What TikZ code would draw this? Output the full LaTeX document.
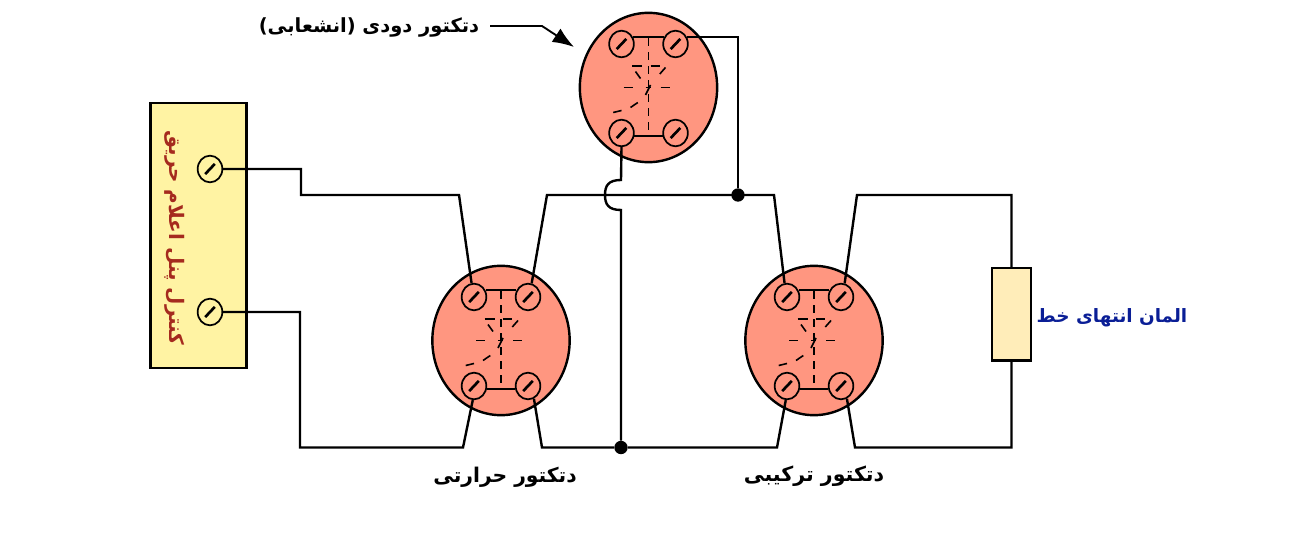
\documentclass[tikz,border=0pt]{standalone}
\usepackage{fontspec}
\usepackage{xcolor}
\usetikzlibrary{calc,positioning,shapes.geometric,arrows.meta}
\TeXXeTstate=1
\newfontfamily\arabicfont[Script=Arabic]{DejaVu Sans}
\definecolor{headred}{HTML}{FF9680}
\definecolor{panelyellow}{HTML}{FFF3A3}
\definecolor{loadcream}{HTML}{FFEDB9}
\definecolor{paneltext}{HTML}{A52A1E}
\definecolor{loadtext}{HTML}{0A1E96}
\tikzset{
	wire/.style={line width=1.8pt},
	junction/.style={circle,fill=black,inner sep=0pt,minimum size=10pt},
	terminal/.style={ellipse,draw,line width=1.3pt,inner sep=0pt,minimum width=18.5pt,minimum height=20pt,
		path picture={\draw[line width=2pt] ($(path picture bounding box.center)+(-3.6pt,-3.8pt)$) -- ($(path picture bounding box.center)+(3.6pt,3.8pt)$);}},
	name label/.style={font=\arabicfont\bfseries\fontsize{15}{17}\selectfont},
	sensor/.style={line width=1.2pt,dash pattern=on 5.5pt off 5pt},
	detector/.pic={
		\node[ellipse,draw,fill=headred,line width=1.8pt,inner sep=0pt,minimum width=103pt,minimum height=112pt] (-body) at (0,0) {};
		\node[terminal] (-tl) at (-27,-43.5) {};
		\node[terminal] (-tr) at (27,-43.5) {};
		\node[terminal] (-bl) at (-27,45.5) {};
		\node[terminal] (-br) at (27,45.5) {};
		\draw[line width=1.5pt] (-tl.30) -- (-tr.150);
		\draw[line width=1.5pt] (-bl.-15) -- (-br.195);
		\draw[sensor] (0,-49) -- (0,48.5);
		%
		\draw[line width=1.2pt] (-16.5,-21.5) -- (-6.5,-21.5) (2,-21.5) -- (11,-21.5);
		\draw[line width=1.2pt] (-13,-16) -- (-8,-9) (17,-20) -- (11.3,-13.5);
		\draw[line width=1.2pt] (-25,0) -- (-16,0) (12,0) -- (21,0) (-3,0) -- (2,0);
		\draw[line width=1.2pt] (2,-2.5) -- (-3,7.5);
		\draw[line width=1.2pt] (-10.7,15) -- (-18,20) (-27,23) -- (-35.3,25);
	}
}
\begin{document}
\begin{tikzpicture}[x=0.75pt,y=-0.75pt]
	\useasboundingbox (0,0) rectangle (1289,534);
	%
	\node[draw,fill=panelyellow,line width=1.8pt,inner sep=0pt,minimum width=72pt,minimum height=199pt] (panel) at (198.5,235.5) {};
	\node[terminal] (pt1) at (210,169) {};
	\node[terminal] (pt2) at (210,312) {};
	\node[rotate=-90,text=paneltext,font=\arabicfont\bfseries\fontsize{15}{17}\selectfont] (paneltitle) at (175,238) {\beginR کنترل پنل اعلام حریق\endR};
	%
	\pic (smoke) at (648.5,87.5) {detector};
	\pic (heat) at (501,340.5) {detector};
	\pic (combo) at (814,340.5) {detector};
	\node[draw,fill=loadcream,line width=1.8pt,inner sep=0pt,minimum width=29pt,minimum height=69.5pt] (eol) at (1011.5,314.3) {};
	%
	\node[font=\arabicfont\bfseries\fontsize{14.6}{17}\selectfont] (smokename) at (369,27) {\beginR دتکتور دودی (انشعابی)\endR};
	\node[name label,font=\arabicfont\bfseries\fontsize{15.2}{17}\selectfont] (heatname) at (505,477) {\beginR دتکتور حرارتی\endR};
	\node[name label,font=\arabicfont\bfseries\fontsize{15.4}{17}\selectfont] (comboname) at (814,476) {\beginR دتکتور ترکیبی\endR};
	\node[text=loadtext,font=\arabicfont\bfseries\fontsize{13.8}{16}\selectfont] (eolname) at (1112,318) {\beginR المان انتهای خط\endR};
	%
	\node[junction] (j1) at (738,195) {};
	\node[junction] (j2) at (621,447.5) {};
	%
	\coordinate (a1) at (301,195);
	\coordinate (a2) at (459,195);
	\coordinate (a3) at (300,447.5);
	\coordinate (a4) at (463,447.5);
	\coordinate (b1) at (547,195);
	\coordinate (b2) at (774,195);
	\coordinate (b3) at (542,447.5);
	\coordinate (b4) at (777,447.5);
	\coordinate (c1) at (857,195);
	\coordinate (c2) at (1011.5,195);
	\coordinate (c3) at (855,447.5);
	\coordinate (c4) at (1011.5,447.5);
	\coordinate (h1) at (621,180);
	\coordinate (h2) at (605,195);
	\coordinate (h3) at (621,210);
	\coordinate (p1) at (490,26);
	\coordinate (p2) at (542,26);
	\coordinate (p3) at (574,47);
	%
	\draw[wire] (pt1.east) -| (a1) -- (a2) -- (heat-tl.100);
	\draw[wire] (pt2.east) -| (a3) -- (a4) -- (heat-bl.265);
	\draw[wire] (heat-tr.75) -- (b1) -- (b2) -- (combo-tl.100);
	\draw[wire] (heat-br.-65) -- (b3) -- (j2) -- (b4) -- (combo-bl.265);
	\draw[wire] (combo-tr.75) -- (c1) -- (c2) -- (eol.north);
	\draw[wire] (combo-br.-65) -- (c3) -- (c4) -- (eol.south);
	\draw[wire] (smoke-tr.30) -| (j1);
	\draw[wire] (smoke-bl.south) -- (h1) .. controls (608,180) and (605,186) .. (h2) .. controls (605,204) and (608,210) .. (h3) -- (j2);
	\draw[line width=1.4pt,-{Latex[length=16pt,width=12pt]}] (p1) -- (p2) -- (p3);
\end{tikzpicture}
\end{document}
